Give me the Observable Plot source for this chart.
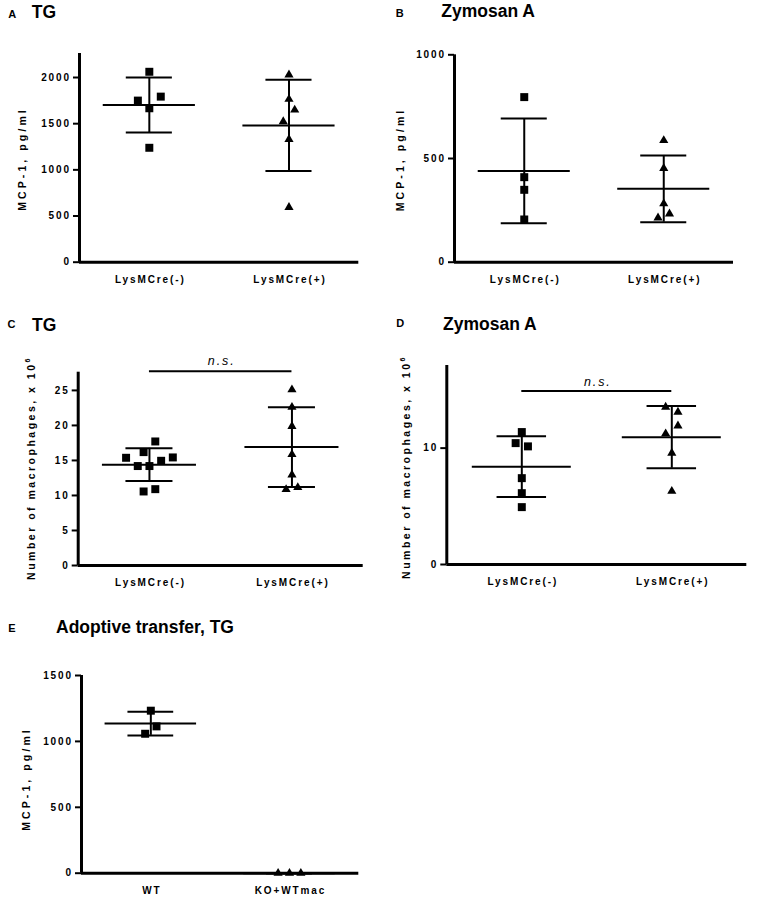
<!DOCTYPE html>
<html><head><meta charset="utf-8">
<script src="https://cdn.jsdelivr.net/npm/d3@7"></script>
<script src="https://cdn.jsdelivr.net/npm/@observablehq/plot@0.6"></script>
<style>
html,body{margin:0;padding:0;background:#fff;}
#root{position:relative;width:766px;height:897px;overflow:hidden;font-family:"Liberation Sans",Arial,sans-serif;color:#000;}
.panel{position:absolute;}
#overlay{position:absolute;left:0;top:0;pointer-events:none;}
</style></head><body><div id="root"></div>
<script>
// ---------- data ----------
const groupsLys = ["LysMCre(-)", "LysMCre(+)"];
const groupsAT = ["WT", "KO+WTmac"];

// A: MCP-1, TG (pg/ml)
const mcpTG_neg = [2062, 1667, 1750, 1793, 1239];
const mcpTG_pos = [2029, 1765, 1522, 1649, 1330, 595];
// B: MCP-1, Zymosan A (pg/ml)
const mcpZym_neg = [796, 410, 349, 206];
const mcpZym_pos = [587, 453, 282, 214, 233];
// C: macrophages, TG (x 10^6)
const macTG_neg = [14.2, 14.2, 14.95, 15.38, 15.43, 16.19, 17.71, 10.57, 10.9];
const macTG_pos = [25.1, 22.6, 19.86, 15.86, 12.96, 10.86, 11.14];
// D: macrophages, Zymosan A (x 10^6)
const macZym_neg = [11.38, 10.43, 10.15, 7.42, 6.13, 4.93];
const macZym_pos = [13.53, 13.1, 11.24, 11.92, 9.57, 6.3];
// E: adoptive transfer, TG (pg/ml)
const adopt_WT = [1233, 1058, 1114];
const adopt_KO = [0, 0, 0];

const ticksA = [0, 500, 1000, 1500, 2000];
const ticksB = [0, 500, 1000];
const ticksC = [0, 5, 10, 15, 20, 25];
const ticksD = [0, 10];
const ticksE = [0, 500, 1000, 1500];

// ---------- layout helpers ----------
const CLUSTER_PX = 12.2;   // points closer than this (px) are spread side by side
const STEP = 0.082;        // horizontal step between spread points (x units)

function jitter(vals, pxPerUnit) {
  const idx = d3.range(vals.length).sort((a, b) => vals[a] - vals[b] || a - b);
  const off = new Array(vals.length).fill(0);
  let i = 0;
  while (i < idx.length) {
    const anchor = vals[idx[i]];
    let j = i;
    while (j < idx.length && (vals[idx[j]] - anchor) * pxPerUnit < CLUSTER_PX) j++;
    const members = idx.slice(i, j).sort((a, b) => a - b);
    const n = members.length;
    members.forEach((m, k) => {
      let slot;
      if (n % 2) slot = k === 0 ? 0 : (k % 2 ? -Math.ceil(k / 2) : Math.ceil(k / 2));
      else { const p = Math.floor(k / 2) + 0.5; slot = k % 2 ? p : -p; }
      off[m] = slot * STEP;
    });
    i = j;
  }
  return off;
}

function panel(cfg) {
  const {names, series, yMax, yTicks, w, h, ml, mr, mt, mb, sig} = cfg;
  const pxPerUnit = (h - mt - mb) / yMax;
  const pts = [], stats = [];
  series.forEach((vals, gi) => {
    const off = jitter(vals, pxPerUnit);
    vals.forEach((v, k) => pts.push({gi, value: v, x: gi + off[k]}));
    stats.push({gi, mean: d3.mean(vals), sd: d3.deviation(vals) || 0});
  });
  const marks = [
    Plot.ruleY(stats, {y: "mean", x1: d => d.gi - 0.33, x2: d => d.gi + 0.33, strokeWidth: 2}),
    Plot.ruleY(stats, {y: d => d.mean + d.sd, x1: d => d.gi - 0.165, x2: d => d.gi + 0.165, strokeWidth: 2}),
    Plot.ruleY(stats, {y: d => d.mean - d.sd, x1: d => d.gi - 0.165, x2: d => d.gi + 0.165, strokeWidth: 2}),
    Plot.ruleX(stats, {x: "gi", y1: d => d.mean - d.sd, y2: d => d.mean + d.sd, strokeWidth: 2}),
    Plot.dot(pts.filter(d => d.gi === 0), {x: "x", y: "value", symbol: "square", r: 4.5, fill: "black"}),
    Plot.dot(pts.filter(d => d.gi === 1), {x: "x", y: "value", symbol: "triangle", r: 3.4, fill: "black"}),
    Plot.ruleX([-0.5], {strokeWidth: 3}),
    Plot.ruleY([0], {strokeWidth: 3}),
    Plot.axisY({ticks: yTicks, tickFormat: d3.format("d"), tickSize: 6, tickPadding: 2.5, strokeWidth: 2, label: null}),
    Plot.axisX({ticks: [0, 1], tickFormat: i => names[i], tickSize: 0, tickPadding: 13.5, dx: 1, label: null})
  ];
  if (sig) {
    marks.push(Plot.ruleY([sig.y], {x1: 0, x2: 1, strokeWidth: 2}));
    marks.push(Plot.text(["n.s."], {x: 0.5, y: sig.y, text: d => d, dy: sig.dy, dx: 1,
      fontStyle: "italic", fontWeight: "normal", fontSize: 12.5}));
  }
  return Plot.plot({
    width: w, height: h,
    marginLeft: ml, marginRight: mr, marginTop: mt, marginBottom: mb,
    x: {domain: [-0.5, 1.5], label: null},
    y: {domain: [0, yMax], label: null},
    style: {fontFamily: '"Liberation Sans", Arial, sans-serif', fontSize: "10px", fontWeight: "bold",
            letterSpacing: "1.9px", background: "transparent", color: "black", overflow: "visible"},
    marks
  });
}

const panels = [
  {left: 0, top: 0, names: groupsLys, series: [mcpTG_neg, mcpTG_pos], yMax: 2260, yTicks: ticksA,
   w: 383, h: 300, ml: 79, mr: 24.7, mt: 53, mb: 38.3},
  {left: 383, top: 0, names: groupsLys, series: [mcpZym_neg, mcpZym_pos], yMax: 1000, yTicks: ticksB,
   w: 383, h: 300, ml: 71, mr: 33, mt: 54.3, mb: 38.3},
  {left: 0, top: 300, names: groupsLys, series: [macTG_neg, macTG_pos], yMax: 27.6, yTicks: ticksC,
   w: 383, h: 300, ml: 77.7, mr: 20.3, mt: 71.7, mb: 35, sig: {y: 27.75, dy: -10}},
  {left: 383, top: 300, names: groupsLys, series: [macZym_neg, macZym_pos], yMax: 17.1, yTicks: ticksD,
   w: 383, h: 300, ml: 63.3, mr: 19.7, mt: 65, mb: 36, sig: {y: 14.9, dy: -9}},
  {left: 0, top: 600, names: groupsAT, series: [adopt_WT, adopt_KO], yMax: 1500, yTicks: ticksE,
   w: 383, h: 297, ml: 81, mr: 24.7, mt: 75, mb: 24.3}
];

const root = document.getElementById("root");
for (const p of panels) {
  const div = document.createElement("div");
  div.className = "panel";
  div.style.left = p.left + "px";
  div.style.top = p.top + "px";
  div.appendChild(panel(p));
  root.appendChild(div);
}

// ---------- titles & axis titles ----------
const titles = [
  {t: "A", x: 8.3, y: 17.5, s: 11}, {t: "TG", x: 31.7, y: 18.3, s: 17.5},
  {t: "B", x: 395.7, y: 16.7, s: 11}, {t: "Zymosan A", x: 441.3, y: 17.3, s: 17.5},
  {t: "C", x: 7.5, y: 328.3, s: 11}, {t: "TG", x: 32, y: 330.7, s: 17.5},
  {t: "D", x: 396.3, y: 326.7, s: 11}, {t: "Zymosan A", x: 443, y: 330, s: 17.5},
  {t: "E", x: 8.3, y: 632.3, s: 11}, {t: "Adoptive transfer, TG", x: 56, y: 633, s: 17.5}
];
const yTitles = [
  {t: "MCP-1, pg/ml", x: 23, y: 159, sp: 3.1},
  {t: "MCP-1, pg/ml", x: 400.5, y: 159.5, sp: 3.1},
  {t: "Number of macrophages, x 10", sup: "6", x: 32, y: 468, sp: 2.5},
  {t: "Number of macrophages, x 10", sup: "6", x: 407, y: 467, sp: 2.5},
  {t: "MCP-1, pg/ml", x: 27, y: 779, sp: 3.1}
];
const svg = d3.select(root).append("svg").attr("id", "overlay")
  .attr("width", 766).attr("height", 897)
  .style("font-family", '"Liberation Sans", Arial, sans-serif').style("font-weight", "bold");
svg.selectAll("text.title").data(titles).join("text").attr("class", "title")
  .attr("x", d => d.x).attr("y", d => d.y).attr("font-size", d => d.s).text(d => d.t);
const yt = svg.selectAll("text.ytitle").data(yTitles).join("text").attr("class", "ytitle")
  .attr("transform", d => `translate(${d.x},${d.y}) rotate(-90)`)
  .attr("text-anchor", "middle").attr("dy", "0.32em").attr("font-size", 10.5)
  .style("letter-spacing", d => d.sp + "px");
yt.append("tspan").text(d => d.t);
yt.filter(d => d.sup).append("tspan").attr("dy", -5).attr("font-size", 7).text(d => d.sup);
</script></body></html>
